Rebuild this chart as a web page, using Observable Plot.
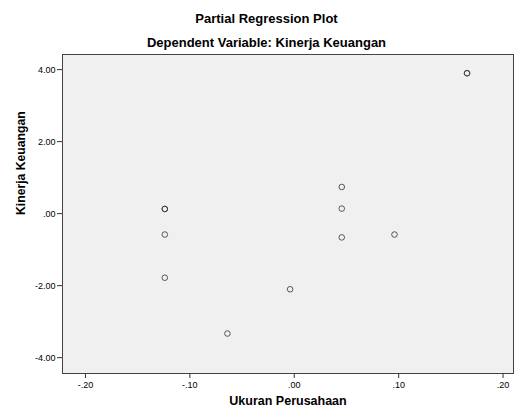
<!DOCTYPE html>
<html>
<head>
<meta charset="utf-8">
<script src="https://cdn.jsdelivr.net/npm/d3@7"></script>
<script src="https://cdn.jsdelivr.net/npm/@observablehq/plot@0.6"></script>
<style>
  html, body { margin: 0; padding: 0; background: #fff; }
  #wrap { position: relative; width: 514px; height: 409px; font-family: "Liberation Sans", Arial, sans-serif; }
  .t { position: absolute; left: 0; width: 533px; text-align: center; font-weight: bold; font-size: 13px; line-height: 15px; color: #000; }
  #title { top: 11px; }
  #subtitle { top: 35px; }
</style>
</head>
<body>
<div id="wrap">
  <div class="t" id="title">Partial Regression Plot</div>
  <div class="t" id="subtitle">Dependent Variable: Kinerja Keuangan</div>
</div>
<script>
const ukuranPerusahaan = [-0.124, -0.124, -0.124, -0.124, -0.064, -0.004, 0.0455, 0.0455, 0.0455, 0.096, 0.1655, 0.1655];
const kinerjaKeuangan  = [0.13, 0.13, -0.58, -1.78, -3.33, -2.10, 0.74, 0.14, -0.66, -0.58, 3.90, 3.90];
const xTicks = [-0.2, -0.1, 0, 0.1, 0.2];
const yTicks = [-4, -2, 0, 2, 4];
const xTitle = "Ukuran Perusahaan";
const yTitle = "Kinerja Keuangan";

const data = ukuranPerusahaan.map((x, i) => ({x, y: kinerjaKeuangan[i]}));
const fmt = d => d3.format(".2f")(d).replace(/\u2212/g, "-").replace(/^(-?)0\./, "$1.");

const chart = Plot.plot({
  width: 514,
  height: 409,
  marginLeft: 62,
  marginRight: 1,
  marginTop: 54,
  marginBottom: 36,
  style: {fontFamily: "Liberation Sans, Arial, sans-serif", fontSize: "9px", color: "#000", background: "transparent"},
  x: {domain: [-0.222, 0.21], label: null},
  y: {domain: [-4.44, 4.42], label: null},
  marks: [
    Plot.frame({fill: "#f0f0f0", stroke: "#444", strokeWidth: 1}),
    Plot.axisX({ticks: xTicks, tickFormat: fmt, tickSize: 5, tickPadding: 3, stroke: "#333", label: null}),
    Plot.axisY({ticks: yTicks, tickFormat: fmt, tickSize: 5, tickPadding: 2, stroke: "#333", label: null}),
    Plot.dot(data, {x: "x", y: "y", r: 2.8, stroke: "#333", strokeWidth: 1, fill: "none", strokeOpacity: 0.8}),
    Plot.text([xTitle], {frameAnchor: "bottom", dy: 31, text: d => d, fontWeight: "bold", fontSize: 12.5, fill: "#000"}),
    Plot.text([yTitle], {frameAnchor: "left", dx: -41, dy: 1, rotate: -90, text: d => d, fontWeight: "bold", fontSize: 12.2, fill: "#000"})
  ]
});
chart.style.position = "absolute";
chart.style.left = "0px";
chart.style.top = "0px";
document.getElementById("wrap").appendChild(chart);
</script>
</body>
</html>
